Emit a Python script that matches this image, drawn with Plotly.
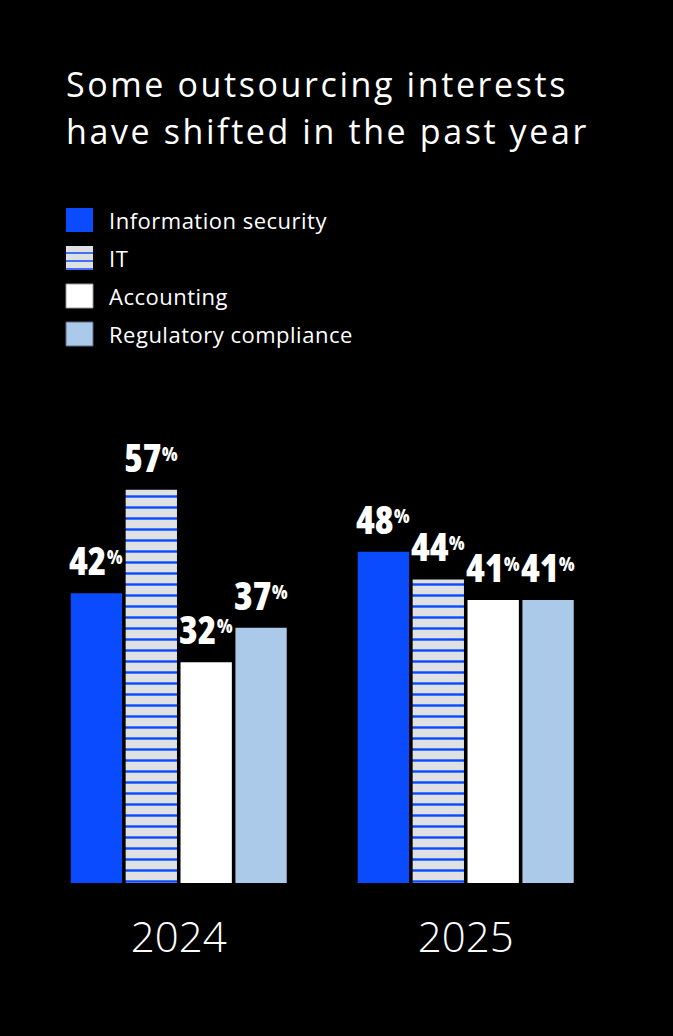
import plotly.graph_objects as go

# Survey data: share of firms outsourcing each function
years = ["2024", "2025"]
series_names = ["Information security", "IT", "Accounting", "Regulatory compliance"]
info_security = [42, 48]
it_services = [57, 44]
accounting = [32, 41]
regulatory = [37, 41]
series_values = [info_security, it_services, accounting, regulatory]

title_lines = ["Some outsourcing interests", "have shifted in the past year"]

# Styling
W, H = 673, 1036
BLUE = "#0a4bff"
STRIPE_BG = "#dfe0e2"
WHITE = "#ffffff"
LIGHT_BLUE = "#abc9e9"
colors = [BLUE, STRIPE_BG, WHITE, LIGHT_BLUE]

TEXT_FONT = "Open Sans"

group_pos = list(range(len(years)))

fig = go.Figure()
for i, (name, vals) in enumerate(zip(series_names, series_values)):
    marker = dict(color=colors[i], line=dict(width=0))
    if name == "IT":
        marker["pattern"] = dict(
            shape="-", size=11, solidity=0.22,
            fgcolor=BLUE, bgcolor=STRIPE_BG, fillmode="replace",
        )
    fig.add_trace(go.Bar(
        x=group_pos, y=vals, name=name, marker=marker, showlegend=False,
        hoverinfo="skip",
    ))

# Axis geometry (paper fractions with zero margins)
x_dom = [35.25 / W, 609.25 / W]
base_px, top_px = 883, 469
y_dom = [1 - base_px / H, 1 - top_px / H]
y_max = 60

bargap = 0.235
bargroupgap = 0.065
band_px = (x_dom[1] - x_dom[0]) * W / len(years)
slot_px = band_px * (1 - bargap) / len(series_names)

num_style = "font-stretch:condensed"
pct_style = "font-stretch:condensed;font-size:19px;baseline-shift:11px"

annotations = []
# Value labels above each bar
for i, vals in enumerate(series_values):
    for gx, v in zip(group_pos, vals):
        annotations.append(dict(
            x=gx, y=v, xref="x", yref="y",
            xshift=(i - (len(series_names) - 1) / 2) * slot_px,
            yshift=5, yanchor="bottom", xanchor="center", showarrow=False,
            text=f"<span style='{num_style}'>{v}</span><span style='{pct_style}'>%</span>",
            font=dict(family=TEXT_FONT, size=38, color=WHITE, weight=800),
        ))

# Title, one annotation per line
for line, top in zip(title_lines, [59, 106]):
    annotations.append(dict(
        x=64 / W, y=1 - top / H, xref="paper", yref="paper",
        xanchor="left", yanchor="top", align="left", showarrow=False,
        text=f"<span style='letter-spacing:2.6px'>{line}</span>",
        font=dict(family=TEXT_FONT, size=34, color=WHITE, weight=400),
    ))

# Legend (drawn manually for large swatches)
shapes = []
legend_rows = [220, 258, 296, 334]
sw_x0, sw_x1 = 66, 93
for name, color, cy in zip(series_names, colors, legend_rows):
    y0, y1 = cy - 12, cy + 12
    border = dict(width=0)
    if name == "Accounting":
        border = dict(width=1, color="#9a9a9a")
    elif name == "Regulatory compliance":
        border = dict(width=1, color="#5a6a80")
    shapes.append(dict(
        type="rect", xref="paper", yref="paper",
        x0=sw_x0 / W, x1=sw_x1 / W, y0=1 - y1 / H, y1=1 - y0 / H,
        fillcolor=color, line=border, layer="above",
    ))
    if name == "IT":
        for ly in (y0 + 7, y0 + 15, y0 + 23):
            shapes.append(dict(
                type="line", xref="paper", yref="paper",
                x0=sw_x0 / W, x1=sw_x1 / W, y0=1 - ly / H, y1=1 - ly / H,
                line=dict(color=BLUE, width=1.5), layer="above",
            ))
    annotations.append(dict(
        x=107 / W, y=1 - cy / H, xref="paper", yref="paper",
        xanchor="left", yanchor="middle", showarrow=False,
        text=f"<span style='letter-spacing:0.5px'>{name}</span>",
        font=dict(family=TEXT_FONT, size=22, color=WHITE, weight=400),
    ))

fig.update_layout(
    width=W, height=H,
    margin=dict(l=0, r=0, t=0, b=0, autoexpand=False),
    paper_bgcolor="#000000", plot_bgcolor="#000000",
    barmode="group", bargap=bargap, bargroupgap=bargroupgap,
    annotations=annotations, shapes=shapes,
    xaxis=dict(
        domain=x_dom, range=[-0.5, len(years) - 0.5], showgrid=False,
        zeroline=False, showline=False, ticks="", ticklabelstandoff=26,
        tickvals=group_pos, ticktext=years,
        tickfont=dict(family=TEXT_FONT, size=42, color=WHITE, weight=300),
    ),
    yaxis=dict(
        domain=y_dom, range=[0, y_max], visible=False, showgrid=False,
    ),
)

fig.write_html("out.html")
